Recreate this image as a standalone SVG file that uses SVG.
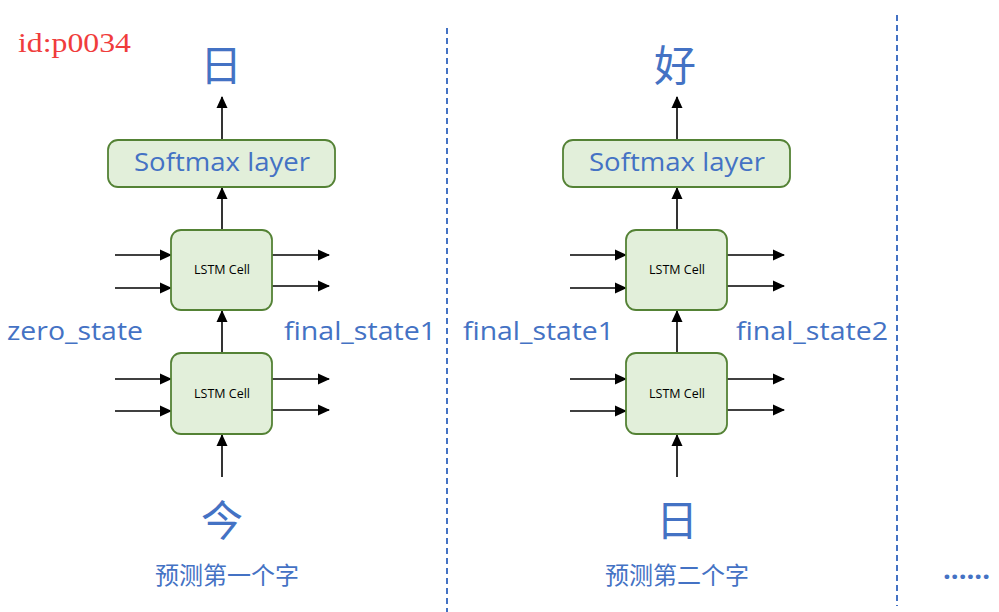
<svg xmlns="http://www.w3.org/2000/svg" width="999" height="612" viewBox="0 0 999 612">
<defs>
<marker id="ah" markerWidth="12" markerHeight="12" refX="11" refY="6" orient="auto" markerUnits="userSpaceOnUse">
<path d="M0,0.5 L12,6 L0,11.5 Z" fill="#000"/>
</marker>
<style>
.box{fill:#E2EFDA;stroke:#548235;stroke-width:1.8}
.ar{stroke:#000;stroke-width:1.6;fill:none;marker-end:url(#ah)}
.dash{stroke:#4472C4;stroke-width:2;stroke-dasharray:6 4;fill:none}
.lbl{font-family:"Open Sans","Liberation Sans",sans-serif;fill:#4472C4;font-size:26px}
.cjk{font-family:"Noto Sans CJK SC",sans-serif;fill:#4472C4}
.cell{font-family:"Open Sans","Liberation Sans",sans-serif;font-size:12.5px;fill:#000}
</style>
</defs>
<rect width="999" height="612" fill="#fff"/>
<text x="18" y="52" font-family="Liberation Serif, serif" font-size="28" fill="#f03c3c" textLength="113" lengthAdjust="spacingAndGlyphs">id:p0034</text>
<g id="separators">
<line class="dash" x1="447" y1="28" x2="447" y2="612"/>
<line class="dash" x1="897" y1="15" x2="897" y2="606"/>
</g>
<g id="connectors">
<line class="ar" x1="222" y1="140" x2="222" y2="97"/>
<line class="ar" x1="222" y1="230" x2="222" y2="188"/>
<line class="ar" x1="222" y1="353" x2="222" y2="311"/>
<line class="ar" x1="222" y1="477" x2="222" y2="435"/>
<line class="ar" x1="115" y1="255" x2="171" y2="255"/>
<line class="ar" x1="115" y1="288" x2="171" y2="288"/>
<line class="ar" x1="272" y1="255" x2="329" y2="255"/>
<line class="ar" x1="272" y1="286" x2="329" y2="286"/>
<line class="ar" x1="115" y1="379" x2="171" y2="379"/>
<line class="ar" x1="115" y1="411" x2="171" y2="411"/>
<line class="ar" x1="272" y1="379" x2="329" y2="379"/>
<line class="ar" x1="272" y1="410" x2="329" y2="410"/>
<line class="ar" x1="677" y1="140" x2="677" y2="97"/>
<line class="ar" x1="677" y1="230" x2="677" y2="188"/>
<line class="ar" x1="677" y1="353" x2="677" y2="311"/>
<line class="ar" x1="677" y1="477" x2="677" y2="435"/>
<line class="ar" x1="570" y1="255" x2="626" y2="255"/>
<line class="ar" x1="570" y1="288" x2="626" y2="288"/>
<line class="ar" x1="727" y1="255" x2="784" y2="255"/>
<line class="ar" x1="727" y1="286" x2="784" y2="286"/>
<line class="ar" x1="570" y1="379" x2="626" y2="379"/>
<line class="ar" x1="570" y1="411" x2="626" y2="411"/>
<line class="ar" x1="727" y1="379" x2="784" y2="379"/>
<line class="ar" x1="727" y1="410" x2="784" y2="410"/>
</g>
<g id="out1"><text class="cjk" x="221" y="81" font-size="42" text-anchor="middle">日</text></g>
<g id="softmax1"><rect class="box" x="108" y="140" width="227" height="47" rx="10"/><text class="lbl" x="222" y="171" text-anchor="middle" textLength="176" lengthAdjust="spacingAndGlyphs">Softmax layer</text></g>
<g id="lstm1a"><rect class="box" x="171" y="230" width="101" height="80" rx="10"/><text class="cell" x="222" y="274" text-anchor="middle">LSTM Cell</text></g>
<g id="lstm1b"><rect class="box" x="171" y="353" width="101" height="81" rx="10"/><text class="cell" x="222" y="398" text-anchor="middle">LSTM Cell</text></g>
<g id="in1"><text class="cjk" x="222" y="536" font-size="42" text-anchor="middle">今</text></g>
<g id="cap1"><text class="cjk" x="227" y="584" font-size="24" text-anchor="middle">预测第一个字</text></g>
<g id="zero_state"><text class="lbl" x="7" y="340" textLength="136" lengthAdjust="spacingAndGlyphs">zero_state</text></g>
<g id="final_state1a"><text class="lbl" x="284" y="340" textLength="152" lengthAdjust="spacingAndGlyphs">final_state1</text></g>
<g id="out2"><text class="cjk" x="675" y="81" font-size="42" text-anchor="middle">好</text></g>
<g id="softmax2"><rect class="box" x="563" y="140" width="227" height="47" rx="10"/><text class="lbl" x="677" y="171" text-anchor="middle" textLength="176" lengthAdjust="spacingAndGlyphs">Softmax layer</text></g>
<g id="lstm2a"><rect class="box" x="626" y="230" width="101" height="80" rx="10"/><text class="cell" x="677" y="274" text-anchor="middle">LSTM Cell</text></g>
<g id="lstm2b"><rect class="box" x="626" y="353" width="101" height="81" rx="10"/><text class="cell" x="677" y="398" text-anchor="middle">LSTM Cell</text></g>
<g id="in2"><text class="cjk" x="677" y="536" font-size="42" text-anchor="middle">日</text></g>
<g id="cap2"><text class="cjk" x="677" y="584" font-size="24" text-anchor="middle">预测第二个字</text></g>
<g id="final_state1b"><text class="lbl" x="463" y="340" textLength="151" lengthAdjust="spacingAndGlyphs">final_state1</text></g>
<g id="final_state2"><text class="lbl" x="736" y="340" textLength="152" lengthAdjust="spacingAndGlyphs">final_state2</text></g>
<g id="ellipsis"><text class="lbl" x="943" y="579" font-size="22" font-weight="bold" textLength="47" lengthAdjust="spacingAndGlyphs">......</text></g>
</svg>
